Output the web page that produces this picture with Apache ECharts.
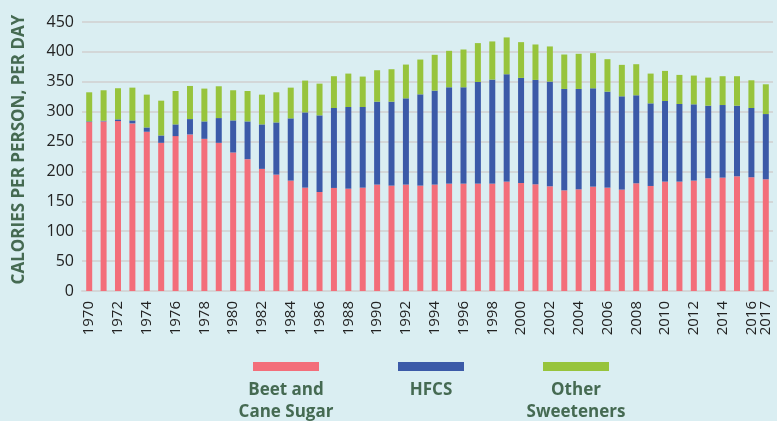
<!DOCTYPE html>
<html>
<head>
<meta charset="utf-8">
<style>
  html, body { margin: 0; padding: 0; background: #daeef2; }
  #chart { width: 777px; height: 421px; }
</style>
<script src="https://cdn.jsdelivr.net/npm/echarts@6/dist/echarts.min.js"></script>
</head>
<body>
<div id="chart"></div>
<script>
// Per-capita caloric sweetener availability, calories per person per day
const years = [
  1970, 1971, 1972, 1973, 1974, 1975, 1976, 1977, 1978, 1979,
  1980, 1981, 1982, 1983, 1984, 1985, 1986, 1987, 1988, 1989,
  1990, 1991, 1992, 1993, 1994, 1995, 1996, 1997, 1998, 1999,
  2000, 2001, 2002, 2003, 2004, 2005, 2006, 2007, 2008, 2009,
  2010, 2011, 2012, 2013, 2014, 2015, 2016, 2017
];

const beetCaneSugar = [
  282.6, 283.7, 284.3, 280.4, 266.4, 247.9, 259.1, 261.9, 254.6, 247.9,
  231.7, 220.5, 204.3, 194.7, 184.7, 172.9, 165.6, 172.4, 171.2, 172.9,
  178.0, 176.3, 178.0, 176.3, 178.0, 179.6, 179.6, 179.6, 179.6, 183.0,
  180.7, 178.5, 175.2, 168.4, 170.1, 174.6, 172.9, 169.6, 180.2, 175.7,
  183.0, 183.0, 184.7, 188.6, 189.7, 191.9, 190.3, 186.9
];

const hfcs = [
  1.1, 1.1, 2.8, 5.0, 7.2, 12.3, 19.6, 25.7, 29.1, 41.4,
  53.7, 63.2, 74.4, 87.3, 104.1, 125.9, 128.2, 133.7, 136.6, 134.9,
  138.7, 140.4, 144.3, 152.7, 157.2, 161.2, 161.2, 170.1, 174.1, 179.6,
  175.8, 174.6, 175.1, 169.6, 167.9, 164.5, 160.6, 156.1, 147.2, 138.2,
  134.8, 129.8, 127.6, 121.4, 121.4, 118.1, 115.8, 109.1
];

const otherSweeteners = [
  48.7, 51.0, 52.1, 54.8, 54.9, 58.2, 55.9, 55.4, 54.9, 53.2,
  50.4, 50.9, 49.8, 50.4, 51.4, 53.2, 53.1, 53.2, 55.9, 50.9,
  52.6, 54.3, 56.5, 58.2, 59.9, 61.0, 63.2, 65.0, 63.8, 61.6,
  59.8, 59.3, 58.8, 57.6, 58.8, 58.8, 54.3, 52.6, 52.0, 49.8,
  50.4, 48.7, 48.1, 47.0, 48.2, 49.3, 46.4, 49.8
];

const seriesNames = ['Beet and\nCane Sugar', 'HFCS', 'Other\nSweeteners'];
const seriesColors = ['#f36e7a', '#3b5aa8', '#97c43c'];
const legendCenters = [286, 431, 576];

const textGreen = '#456a52';
const sansFont = '"Open Sans", "Noto Sans", sans-serif';

const chart = echarts.init(document.getElementById('chart'), null, { renderer: 'canvas' });

const seriesData = [beetCaneSugar, hfcs, otherSweeteners];
const lastIndex = years.length - 1;

const option = {
  backgroundColor: '#daeef2',
  animation: false,
  grid: { left: 82, right: 4, top: 22, bottom: 130, containLabel: false },
  xAxis: {
    type: 'category',
    data: years.map(String),
    axisLine: { show: true, lineStyle: { color: '#d3d7d8', width: 2 } },
    axisTick: { show: false },
    axisLabel: {
      rotate: 90,
      margin: 10,
      color: '#222',
      fontFamily: sansFont,
      fontSize: 15,
      hideOverlap: false,
      interval: 0,
      // every other year is written out, plus the final year
      formatter: (value, index) =>
        (index % 2 === 0 || index === lastIndex) ? value : ''
    }
  },
  yAxis: {
    type: 'value',
    min: 0,
    max: 450,
    interval: 50,
    name: 'CALORIES PER PERSON, PER DAY',
    nameLocation: 'middle',
    nameRotate: 90,
    nameGap: 54,
    nameTextStyle: {
      color: textGreen,
      fontFamily: sansFont,
      fontWeight: 'bold',
      fontSize: 17,
      padding: [0, 0, 0, 14]
    },
    axisLine: { show: false },
    axisTick: { show: false },
    axisLabel: {
      margin: 8,
      color: '#222',
      fontFamily: sansFont,
      fontSize: 16
    },
    splitLine: { show: true, lineStyle: { color: '#d3d7d8', width: 2 } }
  },
  legend: seriesNames.map((name, i) => ({
    data: [name],
    left: legendCenters[i] - 33,
    top: 362,
    icon: 'rect',
    itemWidth: 66,
    itemHeight: 9,
    itemGap: 0,
    padding: 0,
    formatter: () => '',
    selectedMode: false
  })),
  // legend captions sit centred beneath each swatch
  graphic: seriesNames.map((name, i) => ({
    type: 'text',
    x: legendCenters[i],
    y: 379,
    silent: true,
    style: {
      text: name,
      fill: textGreen,
      font: 'bold 17px ' + sansFont,
      align: 'center',
      verticalAlign: 'top',
      lineHeight: 22
    }
  })),
  series: seriesNames.map((name, i) => ({
    name,
    type: 'bar',
    stack: 'total',
    barWidth: 6,
    itemStyle: { color: seriesColors[i] },
    emphasis: { disabled: true },
    data: seriesData[i]
  }))
};

chart.setOption(option);
</script>
</body>
</html>
